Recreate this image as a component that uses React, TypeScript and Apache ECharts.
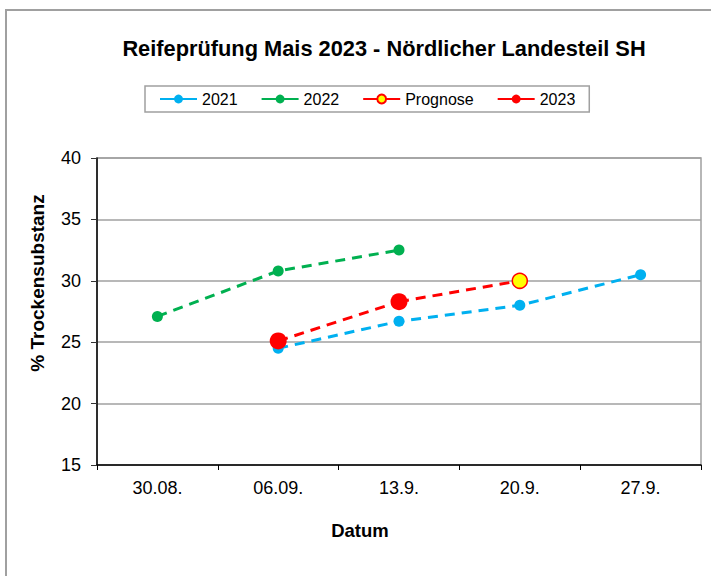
import React, { useEffect, useRef } from "react";
import * as echarts from "echarts";

const categories = ["30.08.", "06.09.", "13.9.", "20.9.", "27.9."];
const y2021 = [null, 24.5, 26.7, 28.0, 30.5];
const y2022 = [27.1, 30.8, 32.5, null, null];
const yPrognose = [null, null, 28.3, 30.0, null];
const y2023 = [null, 25.1, 28.3, null, null];

const titleText = "Reifeprüfung Mais 2023 - Nördlicher Landesteil SH";
const yName = "% Trockensubstanz";
const xName = "Datum";

const FONT = "Liberation Sans, Arial, sans-serif";
const BLUE = "#00B0F0";
const GREEN = "#00B050";
const RED = "#FF0000";
const YELLOW = "#FFFF00";
const DASH = [10, 7];

export default function App() {
  const ref = useRef<HTMLDivElement>(null);
  useEffect(() => {
    if (!ref.current) return;
    const chart = echarts.init(ref.current, undefined, { renderer: "svg" });
    chart.setOption({
      animation: false,
      backgroundColor: "#ffffff",
      textStyle: { fontFamily: FONT },
      title: {
        text: titleText,
        left: 379,
        top: 32,
        textAlign: "center",
        textStyle: { fontFamily: FONT, fontSize: 21.8, fontWeight: "bold", color: "#000" },
      },
      legend: {
        left: 145,
        top: 86,
        padding: [5, 14, 5, 14],
        itemGap: 23,
        itemWidth: 37,
        itemHeight: 11,
        borderColor: "#a0a0a0",
        borderWidth: 1.5,
        lineStyle: { type: "solid" },
        textStyle: { fontFamily: FONT, fontSize: 16, color: "#000", padding: [0, 0, 0, 0] },
        data: ["2021", "2022", "Prognose", "2023"],
      },
      grid: {
        left: 97,
        right: 10,
        top: 158,
        bottom: 111,
        show: true,
        borderColor: "#a0a0a0",
        borderWidth: 1.5,
        backgroundColor: "transparent",
      },
      xAxis: {
        type: "category",
        data: categories,
        boundaryGap: true,
        axisLine: { lineStyle: { color: "#000", width: 1.5 } },
        axisTick: { show: true, length: 5, alignWithLabel: false, lineStyle: { color: "#000" } },
        axisLabel: { fontFamily: FONT, fontSize: 18, color: "#000", margin: 14 },
        splitLine: { show: false },
      },
      yAxis: {
        type: "value",
        min: 15,
        max: 40,
        interval: 5,
        axisLine: { show: true, lineStyle: { color: "#000", width: 1.5 } },
        axisTick: { show: true, length: 6, lineStyle: { color: "#333" } },
        axisLabel: { fontFamily: FONT, fontSize: 18, color: "#000", margin: 16 },
        splitLine: { show: true, lineStyle: { color: "#a0a0a0", width: 1.5 } },
      },
      graphic: [
        {
          type: "rect",
          shape: { x: 6, y: 10, width: 900, height: 900 },
          style: { fill: "none", stroke: "#a0a0a0", lineWidth: 2 },
          silent: true,
          z: -10,
        },
        {
          type: "text",
          x: 37,
          y: 283,
          rotation: Math.PI / 2,
          style: {
            text: yName,
            fontFamily: FONT,
            fontSize: 19,
            fontWeight: "bold",
            fill: "#000",
            textAlign: "center",
            textVerticalAlign: "middle",
          },
        },
        {
          type: "text",
          x: 360,
          y: 530,
          style: {
            text: xName,
            fontFamily: FONT,
            fontSize: 18.5,
            fontWeight: "bold",
            fill: "#000",
            textAlign: "center",
            textVerticalAlign: "middle",
          },
        },
      ],
      series: [
        {
          name: "2021",
          type: "line",
          data: y2021,
          symbol: "circle",
          symbolSize: 11,
          itemStyle: { color: BLUE },
          lineStyle: { color: BLUE, width: 3, type: DASH },
        },
        {
          name: "2022",
          type: "line",
          data: y2022,
          symbol: "circle",
          symbolSize: 11,
          itemStyle: { color: GREEN },
          lineStyle: { color: GREEN, width: 3, type: DASH },
        },
        {
          name: "Prognose",
          type: "line",
          data: yPrognose.map((v, i) => (i === 2 ? { value: v, symbol: "none" } : v)),
          symbol: "circle",
          symbolSize: 15,
          itemStyle: { color: YELLOW, borderColor: RED, borderWidth: 1.5 },
          lineStyle: { color: RED, width: 3, type: DASH },
        },
        {
          name: "2023",
          type: "line",
          data: y2023,
          symbol: "circle",
          symbolSize: 17,
          itemStyle: { color: RED },
          lineStyle: { color: RED, width: 3, type: DASH },
        },
      ],
    });
    return () => chart.dispose();
  }, []);
  return (
    <div
      ref={ref}
      style={{ position: "fixed", left: 0, top: 0, width: 711, height: 576 }}
    />
  );
}
